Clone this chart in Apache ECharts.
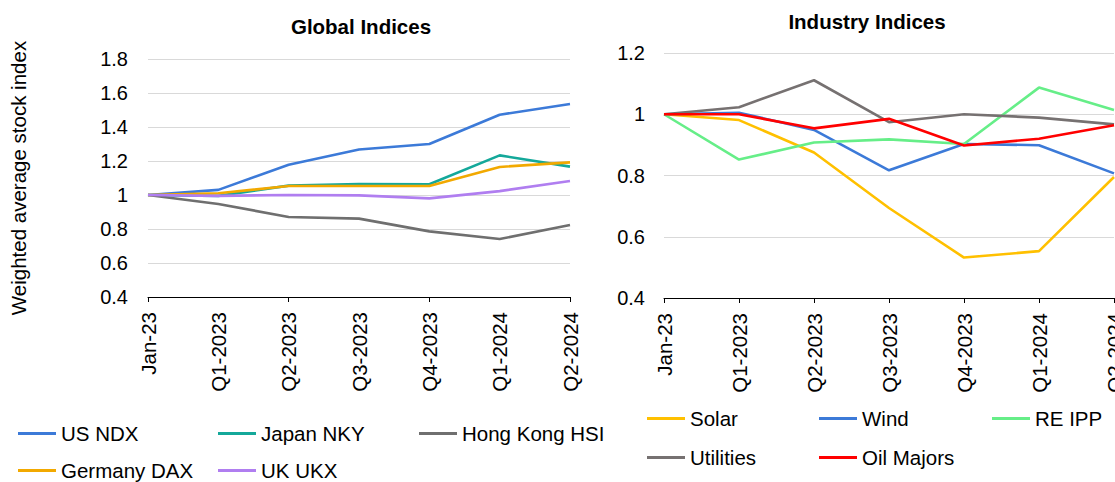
<!DOCTYPE html>
<html>
<head>
<meta charset="utf-8">
<script src="https://cdn.jsdelivr.net/npm/echarts@6/dist/echarts.min.js"></script>
<style>html,body{margin:0;padding:0;background:#fff;}#c{width:1115px;height:482px;}</style>
</head>
<body>
<div id="c"></div>
<script>
var categories = ['Jan-23','Q1-2023','Q2-2023','Q3-2023','Q4-2023','Q1-2024','Q2-2024'];
var globalTicks = [0.4, 1.8, 0.2];
var industryTicks = [0.4, 1.2, 0.2];

var usNdx      = [1.00, 1.03, 1.178, 1.268, 1.300, 1.472, 1.535];
var japanNky   = [1.00, 0.995, 1.055, 1.065, 1.063, 1.233, 1.167];
var hongKongHsi= [1.00, 0.947, 0.871, 0.861, 0.786, 0.741, 0.824];
var germanyDax = [1.00, 1.010, 1.053, 1.053, 1.053, 1.165, 1.192];
var ukUkx      = [1.00, 0.995, 1.000, 0.998, 0.980, 1.023, 1.082];

var solar      = [1.00, 0.981, 0.875, 0.694, 0.532, 0.553, 0.795];
var wind       = [1.00, 1.005, 0.949, 0.817, 0.903, 0.899, 0.807];
var reIpp      = [1.00, 0.852, 0.908, 0.918, 0.903, 1.087, 1.014];
var utilities  = [1.00, 1.023, 1.111, 0.974, 1.000, 0.989, 0.967];
var oilMajors  = [1.00, 1.000, 0.954, 0.985, 0.898, 0.920, 0.964];

var FONT = 'Liberation Sans, Arial, sans-serif';
var FS = 20.5;
var chart = echarts.init(document.getElementById('c'), null, {renderer: 'svg'});

function xAxis(gridIndex, tickInterval) {
  return {
    type: 'category', gridIndex: gridIndex, data: categories, boundaryGap: false,
    axisLine: {lineStyle: {color: '#000', width: 1}},
    axisTick: {show: true, length: 5, interval: tickInterval, lineStyle: {color: '#000'}},
    axisLabel: {rotate: 90, interval: 0, fontSize: FS, color: '#000', fontFamily: FONT, margin: 15}
  };
}
function yAxis(gridIndex, t, margin, extra) {
  var o = {
    type: 'value', gridIndex: gridIndex, min: t[0], max: t[1], interval: t[2],
    axisLine: {show: false}, axisTick: {show: false},
    axisLabel: {fontSize: 20, color: '#000', fontFamily: FONT, margin: margin},
    splitLine: {lineStyle: {color: '#d9d9d9', width: 1}}
  };
  for (var k in extra) o[k] = extra[k];
  return o;
}
function line(name, data, color, idx) {
  return {
    name: name, type: 'line', xAxisIndex: idx, yAxisIndex: idx, data: data,
    symbol: 'none', lineStyle: {width: 2.6, color: color}, itemStyle: {color: color},
    animation: false
  };
}
function leg(name, left, top) {
  return {
    data: [name], left: left, top: top, padding: 0, icon: 'rect',
    itemWidth: 38, itemHeight: 3,
    textStyle: {fontSize: FS, color: '#000', fontFamily: FONT}
  };
}

chart.setOption({
  backgroundColor: '#fff',
  textStyle: {fontFamily: FONT},
  title: [
    {text: 'Global Indices', left: 356, top: 11, textAlign: 'center',
     textStyle: {fontSize: FS, fontWeight: 'bold', color: '#000', fontFamily: FONT}},
    {text: 'Industry Indices', left: 862, top: 6, textAlign: 'center',
     textStyle: {fontSize: FS, fontWeight: 'bold', color: '#000', fontFamily: FONT}}
  ],
  grid: [
    {left: 148, right: 545, top: 59, bottom: 185, containLabel: false, outerBoundsMode: 'none'},
    {left: 664, right: 1, top: 53, bottom: 184, containLabel: false, outerBoundsMode: 'none'}
  ],
  xAxis: [xAxis(0, 1), xAxis(1, 0)],
  yAxis: [
    yAxis(0, globalTicks, 20, {name: 'Weighted average stock index', nameLocation: 'middle', nameGap: 119,
      nameTextStyle: {fontSize: FS, color: '#000', fontFamily: FONT}}),
    yAxis(1, industryTicks, 19, {})
  ],
  legend: [
    leg('US NDX', 18, 423), leg('Japan NKY', 218, 423), leg('Hong Kong HSI', 419, 423),
    leg('Germany DAX', 18, 460), leg('UK UKX', 218, 460),
    leg('Solar', 647, 408), leg('Wind', 819, 408), leg('RE IPP', 992, 408),
    leg('Utilities', 647, 447), leg('Oil Majors', 819, 447)
  ],
  series: [
    line('US NDX', usNdx, '#3c7ad8', 0),
    line('Japan NKY', japanNky, '#14a89a', 0),
    line('Hong Kong HSI', hongKongHsi, '#6f6f6f', 0),
    line('Germany DAX', germanyDax, '#f2a900', 0),
    line('UK UKX', ukUkx, '#b07ef0', 0),
    line('Solar', solar, '#ffc000', 1),
    line('Wind', wind, '#3c7ad8', 1),
    line('RE IPP', reIpp, '#66ee88', 1),
    line('Utilities', utilities, '#767171', 1),
    line('Oil Majors', oilMajors, '#ff0000', 1)
  ]
});
</script>
</body>
</html>
